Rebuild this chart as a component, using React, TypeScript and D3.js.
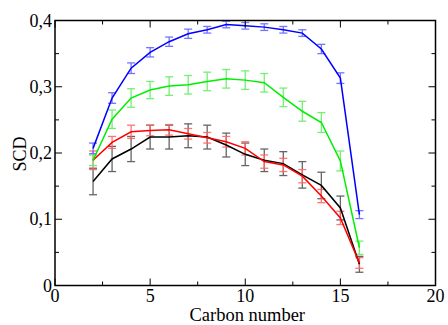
import React from "react";
import * as d3 from "d3";

const carbons = [2, 3, 4, 5, 6, 7, 8, 9, 10, 11, 12, 13, 14, 15, 16];

const blueVals = [0.207, 0.283, 0.328, 0.352, 0.368, 0.380, 0.386, 0.394, 0.392, 0.390, 0.386, 0.381, 0.357, 0.313, 0.107];
const blueErr = [0.008, 0.008, 0.008, 0.007, 0.007, 0.007, 0.005, 0.005, 0.005, 0.005, 0.005, 0.005, 0.007, 0.008, 0.006];

const greenVals = [0.189, 0.251, 0.283, 0.295, 0.301, 0.303, 0.308, 0.312, 0.310, 0.306, 0.284, 0.263, 0.246, 0.188, 0.057];
const greenErr = [0.008, 0.014, 0.014, 0.013, 0.014, 0.014, 0.014, 0.014, 0.014, 0.014, 0.014, 0.015, 0.015, 0.015, 0.01];

const redVals = [0.189, 0.216, 0.232, 0.234, 0.235, 0.229, 0.223, 0.217, 0.207, 0.187, 0.182, 0.165, 0.135, 0.102, 0.034];
const redErr = [0.014, 0.009, 0.01, 0.008, 0.008, 0.008, 0.008, 0.008, 0.01, 0.01, 0.01, 0.01, 0.01, 0.01, 0.008];

const blackVals = [0.157, 0.191, 0.206, 0.224, 0.224, 0.226, 0.224, 0.212, 0.198, 0.189, 0.184, 0.167, 0.151, 0.117, 0.032];
const blackErr = [0.02, 0.019, 0.019, 0.018, 0.018, 0.018, 0.018, 0.018, 0.017, 0.017, 0.018, 0.02, 0.02, 0.018, 0.012];

const xTicks = [0, 5, 10, 15, 20];
const xTickLabels = ["0", "5", "10", "15", "20"];
const yTicks = [0, 0.1, 0.2, 0.3, 0.4];
const yTickLabels = ["0", "0,1", "0,2", "0,3", "0,4"];
const xMinor = [2.5, 7.5, 12.5, 17.5];
const yMinor = [0.05, 0.15, 0.25, 0.35];

const series = [
  { name: "black", vals: blackVals, err: blackErr, line: "#000000", bar: "#555555" },
  { name: "red", vals: redVals, err: redErr, line: "#ff0000", bar: "#ff6666" },
  { name: "green", vals: greenVals, err: greenErr, line: "#00ee00", bar: "#66ee66" },
  { name: "blue", vals: blueVals, err: blueErr, line: "#0000ff", bar: "#6666ff" },
];

const L = 55, R = 435.5, T = 20.5, B = 285.5;

export default function App() {
  const x = d3.scaleLinear().domain([0, 20]).range([L, R]);
  const y = d3.scaleLinear().domain([0, 0.4]).range([B, T]);
  const line = d3.line<number>().x((_, i) => x(carbons[i])).y((v) => y(v));
  const font = "'Liberation Serif', 'Times New Roman', Times, serif";
  const capW = 4;
  return (
    <svg width={448} height={325} style={{ position: "absolute", left: 0, top: 0 }}>
      <rect x={0} y={0} width={448} height={325} fill="#fff" />
      {series.map((s) =>
        s.vals.map((v, i) => {
          const cx = x(carbons[i]);
          const y1 = y(v + s.err[i]);
          const y2 = y(v - s.err[i]);
          return (
            <g key={s.name + i} stroke={s.bar} strokeWidth={1.3} opacity={0.9}>
              <line x1={cx} x2={cx} y1={y1} y2={y2} />
              <line x1={cx - capW} x2={cx + capW} y1={y1} y2={y1} />
              <line x1={cx - capW} x2={cx + capW} y1={y2} y2={y2} />
            </g>
          );
        })
      )}
      {series.map((s) => (
        <path key={s.name} d={line(s.vals) || ""} fill="none" stroke={s.line} strokeWidth={1.5} />
      ))}
      <g stroke="#000" strokeWidth={1}>
        {xTicks.map((t) => (
          <g key={"xt" + t}>
            <line x1={x(t)} x2={x(t)} y1={B} y2={B - 7} />
            <line x1={x(t)} x2={x(t)} y1={T} y2={T + 7} />
          </g>
        ))}
        {xMinor.map((t) => (
          <g key={"xm" + t}>
            <line x1={x(t)} x2={x(t)} y1={B} y2={B - 4} />
            <line x1={x(t)} x2={x(t)} y1={T} y2={T + 4} />
          </g>
        ))}
        {yTicks.map((t) => (
          <g key={"yt" + t}>
            <line x1={L} x2={L + 7} y1={y(t)} y2={y(t)} />
            <line x1={R} x2={R - 7} y1={y(t)} y2={y(t)} />
          </g>
        ))}
        {yMinor.map((t) => (
          <g key={"ym" + t}>
            <line x1={L} x2={L + 4} y1={y(t)} y2={y(t)} />
            <line x1={R} x2={R - 4} y1={y(t)} y2={y(t)} />
          </g>
        ))}
      </g>
      <rect x={L} y={T} width={R - L} height={B - T} fill="none" stroke="#000" strokeWidth={1.5} />
      <g style={{ fontFamily: font, fontSize: "18px" }} fill="#000">
        {xTicks.map((t, i) => (
          <text key={"xl" + t} x={x(t)} y={302} textAnchor="middle">
            {xTickLabels[i]}
          </text>
        ))}
        {yTicks.map((t, i) => (
          <text key={"yl" + t} x={52} y={y(t) + 6} textAnchor="end">
            {yTickLabels[i]}
          </text>
        ))}
        <text x={x(10) + 2} y={321} textAnchor="middle" style={{ fontSize: "18.5px" }}>Carbon number</text>
        <text transform={`translate(26, ${154}) rotate(-90)`} textAnchor="middle">SCD</text>
      </g>
    </svg>
  );
}
